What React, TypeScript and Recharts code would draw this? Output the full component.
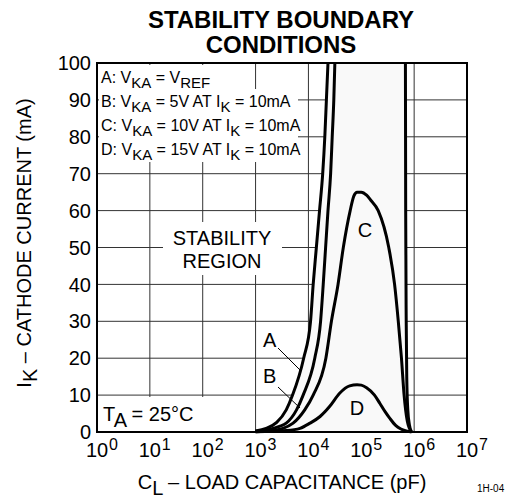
import React from "react"
import {
  ComposedChart,
  Line,
  Area,
  XAxis,
  YAxis,
  CartesianGrid,
  ReferenceArea,
} from "recharts"

// capacitance in pF, cathode current in mA
const curveA = [
  { c: 1000, ik: 0.3 },
  { c: 1585, ik: 1 },
  { c: 2512, ik: 2.6 },
  { c: 3802, ik: 6 },
  { c: 5012, ik: 10 },
  { c: 8128, ik: 20 },
  { c: 10965, ik: 30 },
  { c: 12303, ik: 40 },
  { c: 14125, ik: 50 },
  { c: 16218, ik: 60 },
  { c: 18621, ik: 70 },
  { c: 20417, ik: 80 },
  { c: 21878, ik: 90 },
  { c: 23442, ik: 100 },
]

const curveB = [
  { c: 1000, ik: 0.2 },
  { c: 1995, ik: 0.8 },
  { c: 2818, ik: 1.5 },
  { c: 3802, ik: 2.4 },
  { c: 5957, ik: 6 },
  { c: 7943, ik: 10 },
  { c: 13183, ik: 20 },
  { c: 16982, ik: 30 },
  { c: 19055, ik: 40 },
  { c: 21135, ik: 50 },
  { c: 23442, ik: 60 },
  { c: 26303, ik: 70 },
  { c: 28184, ik: 80 },
  { c: 30200, ik: 90 },
  { c: 31623, ik: 100 },
]

const curveC = [
  { c: 1000, ik: 0.1 },
  { c: 1995, ik: 0.4 },
  { c: 3311, ik: 1 },
  { c: 5129, ik: 2.4 },
  { c: 8511, ik: 6 },
  { c: 12303, ik: 10 },
  { c: 21380, ik: 20 },
  { c: 27227, ik: 30 },
  { c: 36308, ik: 40 },
  { c: 45709, ik: 50 },
  { c: 61660, ik: 60 },
  { c: 72444, ik: 64 },
  { c: 83176, ik: 65 },
  { c: 100000, ik: 65 },
  { c: 125893, ik: 64.2 },
  { c: 151356, ik: 62.8 },
  { c: 208930, ik: 60 },
  { c: 331131, ik: 50 },
  { c: 426580, ik: 40 },
  { c: 501187, ik: 30 },
  { c: 575440, ik: 20 },
  { c: 645654, ik: 10 },
  { c: 741310, ik: 3 },
  { c: 891251, ik: 0 },
]

const curveD = [
  { c: 1000, ik: 0.05 },
  { c: 3802, ik: 0.4 },
  { c: 6918, ik: 1 },
  { c: 10715, ik: 2.4 },
  { c: 16596, ik: 4.2 },
  { c: 25119, ik: 6.9 },
  { c: 38905, ik: 10.5 },
  { c: 60256, ik: 12.5 },
  { c: 83176, ik: 12.8 },
  { c: 100000, ik: 12.7 },
  { c: 125893, ik: 12 },
  { c: 177828, ik: 10 },
  { c: 223872, ik: 7.8 },
  { c: 281838, ik: 5.5 },
  { c: 346737, ik: 3.7 },
  { c: 446684, ik: 1.8 },
  { c: 562341, ik: 0.8 },
  { c: 891251, ik: 0 },
]

// right-hand edge of the A / B boundary
const rightEdge = [
  { c: 683912, ik: 100 },
  { c: 691831, ik: 60 },
  { c: 707946, ik: 30 },
  { c: 724436, ik: 15 },
  { c: 758578, ik: 6 },
  { c: 812831, ik: 2 },
  { c: 891251, ik: 0 },
]

const xTicks = [1, 10, 100, 1000, 10000, 100000, 1000000, 10000000]
const xTickExp = ["0", "1", "2", "3", "4", "5", "6", "7"]
const yTicks = [0, 10, 20, 30, 40, 50, 60, 70, 80, 90, 100]

const regionData = [...curveA, ...rightEdge]

const font = "'Liberation Sans', Arial, Helvetica, sans-serif"

const XTick = (props: any) => {
  const { x, y, payload } = props
  const i = xTicks.indexOf(payload.value)
  return (
    <g fontFamily={font} fill="#000">
      <text x={x} y={y + 25} textAnchor="middle" fontSize={20}>
        10
      </text>
      <text x={x + 12} y={y + 18} textAnchor="start" fontSize={16}>
        {xTickExp[i]}
      </text>
    </g>
  )
}

function Annotations() {
  const sub = { dy: 5, fontSize: 15 }
  const up = { dy: -5, fontSize: 16 }
  return (
    <svg
      width={515}
      height={499}
      style={{ position: "absolute", left: 0, top: 0, pointerEvents: "none" }}
      fontFamily={font}
    >
      {/* title */}
      <text x={281} y={28} textAnchor="middle" fontSize={24} fontWeight="bold">
        STABILITY BOUNDARY
      </text>
      <text x={281} y={53} textAnchor="middle" fontSize={24} fontWeight="bold">
        CONDITIONS
      </text>

      {/* legend block */}
      <rect x={99} y={65} width={113} height={24} fill="#fff" />
      <rect x={99} y={89} width={199} height={73} fill="#fff" />
      <text x={101} y={83} fontSize={16}>
        A: V<tspan {...sub}>KA</tspan>
        <tspan {...up}>{" = V"}</tspan>
        <tspan {...sub}>REF</tspan>
      </text>
      <text x={101} y={107} fontSize={16}>
        B: V<tspan {...sub}>KA</tspan>
        <tspan {...up}>{" = 5V AT I"}</tspan>
        <tspan {...sub}>K</tspan>
        <tspan {...up}>{" = 10mA"}</tspan>
      </text>
      <text x={101} y={131} fontSize={16}>
        C: V<tspan {...sub}>KA</tspan>
        <tspan {...up}>{" = 10V AT I"}</tspan>
        <tspan {...sub}>K</tspan>
        <tspan {...up}>{" = 10mA"}</tspan>
      </text>
      <text x={101} y={155} fontSize={16}>
        D: V<tspan {...sub}>KA</tspan>
        <tspan {...up}>{" = 15V AT I"}</tspan>
        <tspan {...sub}>K</tspan>
        <tspan {...up}>{" = 10mA"}</tspan>
      </text>

      {/* stability region label */}
      <rect x={163} y={222} width={119} height={53} fill="#fff" />
      <text x={222} y={245} textAnchor="middle" fontSize={20}>
        STABILITY
      </text>
      <text x={222} y={268} textAnchor="middle" fontSize={20}>
        REGION
      </text>

      {/* temperature */}
      <rect x={99} y={397} width={155} height={34} fill="#fff" />
      <text x={103} y={421} fontSize={20}>
        T<tspan dy={6}>A</tspan>
        <tspan dy={-6}>{" = 25°C"}</tspan>
      </text>

      {/* curve labels */}
      <text x={263} y={347} fontSize={20}>A</text>
      <text x={263} y={383} fontSize={20}>B</text>
      <text x={365} y={237} textAnchor="middle" fontSize={20}>C</text>
      <text x={357} y={415} textAnchor="middle" fontSize={20}>D</text>
      <line x1={278} y1={348} x2={300} y2={370} stroke="#000" strokeWidth={1} />
      <line x1={278} y1={387} x2={300} y2={408} stroke="#000" strokeWidth={1} />

      {/* axis titles */}
      <text x={282} y={489} textAnchor="middle" fontSize={20}>
        C<tspan dy={6}>L</tspan>
        <tspan dy={-6}>{" – LOAD CAPACITANCE (pF)"}</tspan>
      </text>
      <text
        transform="translate(31,243) rotate(-90)"
        textAnchor="middle"
        fontSize={20}
      >
        I<tspan dy={6}>K</tspan>
        <tspan dy={-6}>{" – CATHODE CURRENT (mA)"}</tspan>
      </text>
      <text x={477} y={492} fontSize={10}>
        1H-04
      </text>
    </svg>
  )
}

export default function App() {
  return (
    <div
      style={{
        position: "absolute",
        left: 0,
        top: 0,
        width: 515,
        height: 499,
        background: "#fff",
      }}
    >
      <ComposedChart
        width={515}
        height={499}
        margin={{ top: 63, right: 48, bottom: 27, left: 37 }}
      >
        <CartesianGrid stroke="#333" strokeWidth={1} />
        <XAxis
          dataKey="c"
          type="number"
          scale="log"
          domain={[1, 10000000]}
          ticks={xTicks}
          tick={XTick}
          tickLine={false}
          axisLine={false}
          tickSize={0}
          tickMargin={0}
          height={40}
          interval={0}
        />
        <YAxis
          type="number"
          domain={[0, 100]}
          ticks={yTicks}
          tick={{ fontSize: 20, fill: "#000", fontFamily: font }}
          tickLine={false}
          axisLine={false}
          tickSize={0}
          tickMargin={6}
          width={60}
          interval={0}
        />
        <Area
          data={regionData}
          dataKey="ik"
          type="linear"
          fill="#f9f9f9"
          fillOpacity={1}
          stroke="none"
          isAnimationActive={false}
        />
        <Line data={curveA} dataKey="ik" type="monotone" stroke="#000" strokeWidth={3} dot={false} isAnimationActive={false} />
        <Line data={curveB} dataKey="ik" type="monotone" stroke="#000" strokeWidth={3} dot={false} isAnimationActive={false} />
        <Line data={curveC} dataKey="ik" type="monotone" stroke="#000" strokeWidth={3} dot={false} isAnimationActive={false} />
        <Line data={curveD} dataKey="ik" type="monotone" stroke="#000" strokeWidth={3} dot={false} isAnimationActive={false} />
        <Line data={rightEdge} dataKey="ik" type="monotone" stroke="#000" strokeWidth={3} dot={false} isAnimationActive={false} />
        <ReferenceArea
          x1={1}
          x2={10000000}
          y1={0}
          y2={100}
          fill="none"
          stroke="#000"
          strokeWidth={2}
          ifOverflow="visible"
        />
      </ComposedChart>
      <Annotations />
    </div>
  )
}
